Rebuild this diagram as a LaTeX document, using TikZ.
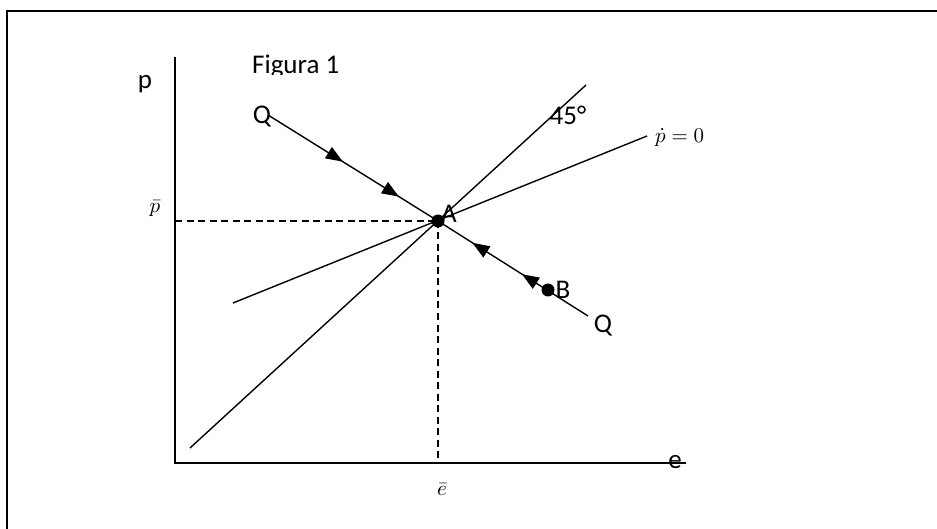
\documentclass[tikz,border=0pt]{standalone}
\usepackage{fontspec}
\setmainfont{Carlito}
\usetikzlibrary{arrows.meta,decorations.markings}
\newcommand{\bigmath}[1]{\scalebox{2.1}{$#1$}}
\tikzset{
  frame/.style={line width=2pt},
  axis/.style={line width=1.8pt},
  curve/.style={line width=1.4pt},
  guide/.style={line width=1.3pt, dash pattern=on 7pt off 4.5pt},
  lbl/.style={font=\fontsize{27}{30}\selectfont, inner sep=0pt},
  mlbl/.style={inner sep=0pt},
  dot/.style={circle, fill=black, inner sep=0pt, minimum size=13pt},
}
\begin{document}
\begin{tikzpicture}[x=1pt,y=-1pt]
\useasboundingbox (0,0) rectangle (937,529);
% frame
\coordinate (fbl) at (7,529);
\coordinate (ftl) at (7,11);
\coordinate (ftr) at (937,11);
\draw[frame] (fbl) -- (ftl) -- (ftr);
% axes
\coordinate (O) at (175,463);
\coordinate (ytop) at (175,57);
\coordinate (xend) at (686,463);
\draw[axis] (ytop) -- (O) -- (xend);
% equilibrium
\coordinate (A) at (438,221);
\coordinate (pbarA) at (175,221);
\coordinate (ebarA) at (438,463);
\draw[guide] (pbarA) -- (A);
\draw[guide] (A) -- (ebarA);
% 45 degree line
\coordinate (f1) at (190,448);
\coordinate (f2) at (586,85);
\draw[curve] (f1) -- (f2);
% pdot = 0 line
\coordinate (d1) at (233,303);
\coordinate (d2) at (647,136);
\draw[curve] (d1) -- (d2);
% saddle path QQ
\coordinate (qt) at (268,115);
\coordinate (qb) at (588,316);
\draw[curve, postaction={decorate}, decoration={markings,
  mark=at position 0.44 with {\arrow{Triangle[length=17pt,width=13pt]}},
  mark=at position 0.77 with {\arrow{Triangle[length=17pt,width=13pt]}}}]
  (qt) -- (A);
\draw[curve, postaction={decorate}, decoration={markings,
  mark=at position 0.44 with {\arrow{Triangle[length=17pt,width=13pt]}},
  mark=at position 0.77 with {\arrow{Triangle[length=17pt,width=13pt]}}}]
  (qb) -- (A);
% points
\node[dot] (Adot) at (A) {};
\node[dot] (Bdot) at (548,290) {};
% labels
\begin{scope}
  \clip (240,40) rectangle (370,74.5);
  \node[lbl, anchor=base west] (fig) at (252,73.5) {Figura 1};
\end{scope}
\node[lbl] (plab) at (145,84) {p};
\node[lbl] (elab) at (675,462) {e};
\node[lbl] (Qt) at (262,117) {Q};
\node[lbl] (Qb) at (603,326) {Q};
\node[lbl] (Alab) at (449,214) {A};
\node[lbl] (Blab) at (563,290) {B};
\node[lbl] (deg) at (568,115) {45°};
\node[mlbl, anchor=base] (pbar) at (155,213) {\bigmath{\bar{p}}};
\node[mlbl, anchor=base] (ebar) at (442,495) {\bigmath{\bar{e}}};
\node[mlbl, anchor=base west] (pdot) at (655,143) {\bigmath{\dot{p}=0}};
\end{tikzpicture}
\end{document}
